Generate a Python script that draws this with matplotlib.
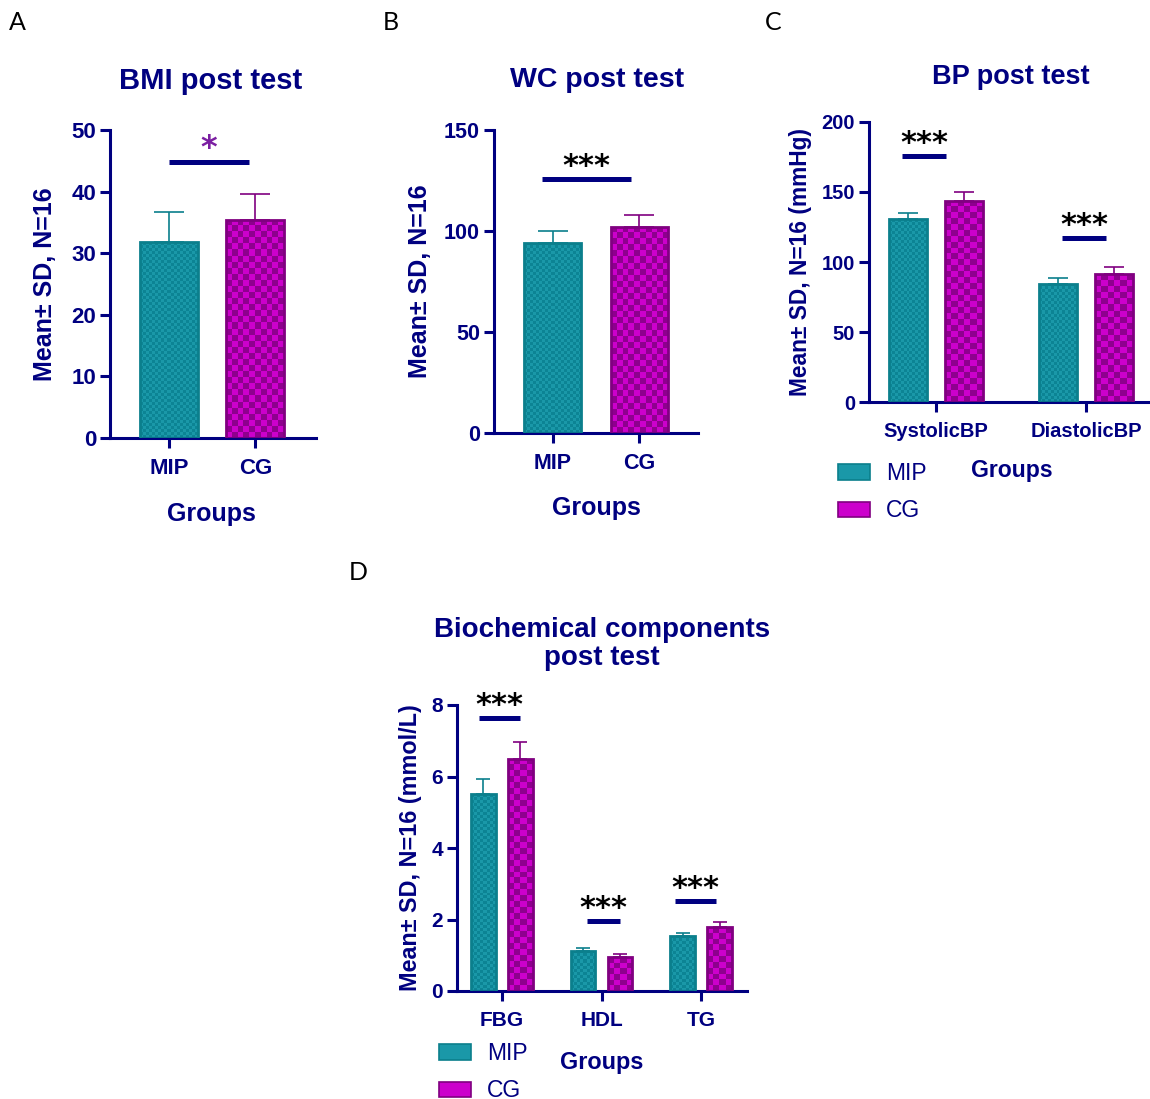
import numpy as np
import matplotlib
matplotlib.use("Agg")
from matplotlib import pyplot as plt
from matplotlib.colors import ListedColormap
from matplotlib.patches import Patch

# ---- data ----
bmi_groups = ["MIP", "CG"]
bmi_mean = [31.8, 35.4]
bmi_sd = [4.9, 4.2]
bmi_sig_y = 44.8

wc_groups = ["MIP", "CG"]
wc_mean = [94.1, 102.0]
wc_sd = [5.9, 6.0]
wc_sig_y = 125.7

bp_labels = ["SystolicBP", "DiastolicBP"]
bp_mip_mean = [130.7, 84.3]
bp_mip_sd = [4.3, 4.3]
bp_cg_mean = [143.6, 91.4]
bp_cg_sd = [6.4, 5.0]
bp_sig_y = [175.7, 117.0]

bio_labels = ["FBG", "HDL", "TG"]
bio_mip_mean = [5.51, 1.12, 1.54]
bio_mip_sd = [0.42, 0.08, 0.08]
bio_cg_mean = [6.49, 0.95, 1.79]
bio_cg_sd = [0.47, 0.08, 0.14]
bio_sig_y = [7.64, 1.96, 2.52]

NAVY = "#000080"
TEAL_EDGE = "#0B7F8C"
TEAL_A, TEAL_B = "#1A98A8", "#0C8494"
MAG_EDGE = "#800080"
MAG_A, MAG_B = "#CC00CC", "#8E008E"

W, H = 1150, 1099
fig = plt.figure(figsize=(W / 100, H / 100), dpi=100)
plt.rcParams['font.family'] = ['Liberation Sans', 'DejaVu Sans']


def px_axes(left, right, top, bottom):
    return fig.add_axes([left / W, 1 - bottom / H, (right - left) / W, (bottom - top) / H])


def ftext(x, y, s, **kw):
    fig.text(x / W, 1 - y / H, s, **kw)


def style(ax, ticksize):
    for s in ["top", "right"]:
        ax.spines[s].set_visible(False)
    for s in ["left", "bottom"]:
        ax.spines[s].set_color(NAVY)
        ax.spines[s].set_linewidth(2.2)
    ax.tick_params(colors=NAVY, width=2.2, length=7, labelsize=ticksize, pad=3)
    ax.tick_params(axis="x", pad=7.5)
    for lab in ax.get_xticklabels() + ax.get_yticklabels():
        lab.set_fontweight("bold")
        lab.set_color(NAVY)


def checker(ax, bars, c1, c2, cell):
    cmap = ListedColormap([c1, c2])
    for b in bars:
        x0, y0, w, h = b.get_x(), b.get_y(), b.get_width(), b.get_height()
        (p0x, p0y), (p1x, p1y) = ax.transData.transform([(x0, y0), (x0 + w, y0 + h)])
        nx = max(1, int(round((p1x - p0x) / cell)))
        ny = max(1, int(round((p1y - p0y) / cell)))
        board = np.add.outer(np.arange(ny), np.arange(nx)) % 2
        im = ax.imshow(board, cmap=cmap, extent=(x0, x0 + w, y0, y0 + h), aspect="auto",
                       interpolation="nearest", origin="lower", zorder=2)
        im.set_clip_path(b)


def draw_bars(ax, x, mean, sd, width, edge, ca, cb, cell, capsize):
    ax.errorbar(x, mean, yerr=[np.zeros(len(sd)), sd], fmt="none", ecolor=edge,
                elinewidth=1.2, capsize=capsize, capthick=1.2, zorder=1)
    bars = ax.bar(x, mean, width=width, facecolor="none", edgecolor=edge, linewidth=2.0, zorder=3)
    checker(ax, bars, ca, cb, cell)
    return bars


def sig(ax, x0, x1, y, text="***", color="black", size=22):
    ax.plot([x0, x1], [y, y], color=NAVY, lw=3.6, solid_capstyle="butt", clip_on=False, zorder=4)
    ax.annotate(text, xy=((x0 + x1) / 2, y), xytext=(0, -1.5), textcoords="offset points",
                ha="center", va="bottom", fontsize=size, fontweight="bold", color=color,
                family="DejaVu Sans", annotation_clip=False)


# ---- panel A: BMI ----
axA = px_axes(110, 316, 130, 438)
xa = np.arange(len(bmi_groups))
axA.set_xlim(-0.68, 1.70)
axA.set_ylim(0, 50)
draw_bars(axA, xa[:1], bmi_mean[:1], bmi_sd[:1], 0.67, TEAL_EDGE, TEAL_A, TEAL_B, 3, 11)
draw_bars(axA, xa[1:], bmi_mean[1:], bmi_sd[1:], 0.67, MAG_EDGE, MAG_A, MAG_B, 6, 11)
sig(axA, 0.0, 0.93, bmi_sig_y, "*", color="#7B1FA2", size=23)
axA.set_xlim(-0.68, 1.70)
axA.set_ylim(0, 50)
axA.set_xticks(xa, bmi_groups)
axA.set_yticks([0, 10, 20, 30, 40, 50])
style(axA, 16)

# ---- panel B: WC ----
axB = px_axes(494, 698, 130, 433)
xb = np.arange(len(wc_groups))
axB.set_xlim(-0.68, 1.68)
axB.set_ylim(0, 150)
draw_bars(axB, xb[:1], wc_mean[:1], wc_sd[:1], 0.66, TEAL_EDGE, TEAL_A, TEAL_B, 3, 11)
draw_bars(axB, xb[1:], wc_mean[1:], wc_sd[1:], 0.66, MAG_EDGE, MAG_A, MAG_B, 6, 11)
sig(axB, -0.13, 0.91, wc_sig_y)
axB.set_xlim(-0.68, 1.68)
axB.set_ylim(0, 150)
axB.set_xticks(xb, wc_groups)
axB.set_yticks([0, 50, 100, 150])
style(axB, 15.5)

# ---- panel C: BP ----
axC = px_axes(869, 1150, 122, 402)
xc = np.arange(len(bp_labels))
off_c = 0.188
axC.set_xlim(-0.447, 1.427)
axC.set_ylim(0, 200)
draw_bars(axC, xc - off_c, bp_mip_mean, bp_mip_sd, 0.253, TEAL_EDGE, TEAL_A, TEAL_B, 3, 7)
draw_bars(axC, xc + off_c, bp_cg_mean, bp_cg_sd, 0.253, MAG_EDGE, MAG_A, MAG_B, 6, 7)
sig(axC, -0.227, 0.067, bp_sig_y[0])
sig(axC, 1 - 0.16, 1 + 0.133, bp_sig_y[1])
axC.set_xlim(-0.447, 1.427)
axC.set_ylim(0, 200)
axC.set_xticks(xc, bp_labels)
axC.set_yticks([0, 50, 100, 150, 200])
style(axC, 14.5)

# ---- panel D: biochemical ----
axD = px_axes(457, 747, 705, 991)
xd = np.arange(len(bio_labels))
off_d = 0.186
axD.set_xlim(-0.45, 2.46)
axD.set_ylim(0, 8)
draw_bars(axD, xd - off_d, bio_mip_mean, bio_mip_sd, 0.25, TEAL_EDGE, TEAL_A, TEAL_B, 3, 5)
draw_bars(axD, xd + off_d, bio_cg_mean, bio_cg_sd, 0.25, MAG_EDGE, MAG_A, MAG_B, 6, 5)
sig(axD, -0.23, 0.18, bio_sig_y[0])
sig(axD, 1 - 0.15, 1 + 0.19, bio_sig_y[1])
sig(axD, 2 - 0.26, 2 + 0.15, bio_sig_y[2])
axD.set_xlim(-0.45, 2.46)
axD.set_ylim(0, 8)
axD.set_xticks(xd, bio_labels)
axD.set_yticks([0, 2, 4, 6, 8])
style(axD, 15)

# legends (the CG entry of panel D runs off the bottom edge, as in the original)
handles = [Patch(facecolor=TEAL_A, edgecolor=TEAL_EDGE, lw=1.2, label="MIP"),
           Patch(facecolor=MAG_A, edgecolor=MAG_EDGE, lw=1.2, label="CG")]
for ax, lx, ly in [(axC, 838, 462), (axD, 439, 1042)]:
    leg = ax.legend(handles=handles, loc="upper left", bbox_to_anchor=(lx / W, 1 - ly / H),
                    bbox_transform=fig.transFigure, frameon=False, fontsize=16.5,
                    handlelength=1.4, handleheight=0.65, handletextpad=0.7,
                    labelspacing=0.62, borderpad=0, borderaxespad=0)
    for t in leg.get_texts():
        t.set_color(NAVY)

# titles, axis labels, panel letters
tkw = dict(ha="center", va="center", color=NAVY, fontweight="bold")
ftext(211, 81, "BMI post test", fontsize=21, **tkw)
ftext(597, 80, "WC post test", fontsize=20.5, **tkw)
ftext(1011, 77, "BP post test", fontsize=19.5, **tkw)
ftext(602, 644, "Biochemical components\npost test", fontsize=20, linespacing=1.1, **tkw)

ftext(45, 284, "Mean± SD, N=16", fontsize=18, rotation=90, **tkw)
ftext(420, 281, "Mean± SD, N=16", fontsize=18, rotation=90, **tkw)
ftext(800, 262, "Mean± SD, N=16 (mmHg)", fontsize=16.4, rotation=90, **tkw)
ftext(410, 848, "Mean± SD, N=16 (mmol/L)", fontsize=16.8, rotation=90, **tkw)

ftext(211, 514, "Groups", fontsize=18, **tkw)
ftext(596, 508, "Groups", fontsize=18, **tkw)
ftext(1012, 471, "Groups", fontsize=16.6, **tkw)
ftext(602, 1062, "Groups", fontsize=16.8, **tkw)

lkw = dict(ha="center", va="center", color="black", fontsize=18, family=["Lato", "DejaVu Sans"])
ftext(17, 23, "A", **lkw)
ftext(391, 23, "B", **lkw)
ftext(773, 23, "C", **lkw)
ftext(358, 572, "D", **lkw)

fig.savefig("out.png", dpi=100)
